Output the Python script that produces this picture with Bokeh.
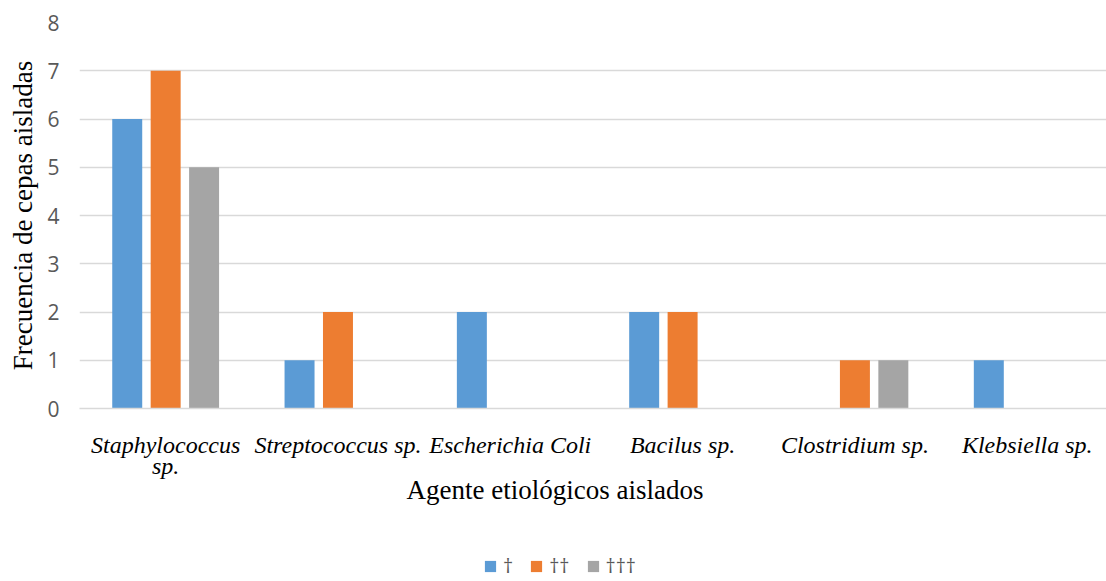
from bokeh.plotting import figure
from bokeh.layouts import column
from bokeh.models import (ColumnDataSource, Legend, LegendItem, Range1d,
                          LinearAxis, FixedTicker, Title)
from bokeh.embed import file_html
from bokeh.resources import INLINE

# Isolated strains per etiological agent, three series
agents = ["Staphylococcus sp.", "Streptococcus sp.", "Escherichia Coli",
          "Bacilus sp.", "Clostridium sp.", "Klebsiella sp."]
serie_1 = [6, 1, 2, 2, 0, 1]
serie_2 = [7, 2, 0, 2, 1, 0]
serie_3 = [5, 0, 0, 0, 1, 0]
series_names = ["\u2020", "\u2020\u2020", "\u2020\u2020\u2020"]
colors = ["#5B9BD5", "#ED7D31", "#A5A5A5"]
y_ticks = [0, 1, 2, 3, 4, 5, 6, 7, 8]

idx = list(range(len(agents)))
bw = 0.174
off = 0.223

p = figure(x_range=Range1d(-0.5, 5.46), y_range=Range1d(0, 8),
           width=1106, height=540, output_backend="svg", toolbar_location=None,
           min_border_left=79, min_border_right=0, min_border_top=22,
           min_border_bottom=132)
p.outline_line_color = None
p.background_fill_color = "white"
p.border_fill_color = "white"

sources = []
for vals, dx in zip([serie_1, serie_2, serie_3], [-off, 0, off]):
    sources.append(ColumnDataSource(dict(x=[i + dx for i in idx], top=vals)))

for src, c in zip(sources, colors):
    p.vbar(x="x", top="top", width=bw, source=src,
           fill_color=c, line_color=None)

# grid
p.xgrid.grid_line_color = None
p.ygrid.grid_line_color = "#D9D9D9"
p.ygrid.grid_line_width = 1.3
p.yaxis.ticker = y_ticks

# y axis
p.yaxis.axis_line_color = None
p.yaxis.major_tick_line_color = None
p.yaxis.minor_tick_line_color = None
p.yaxis.major_label_text_font = "Open Sans"
p.yaxis.major_label_text_font_size = "21px"
p.yaxis.major_label_text_color = "#595959"
p.yaxis.major_label_standoff = 14
p.yaxis.axis_label = "Frecuencia de cepas aisladas"
p.yaxis.axis_label_text_font = "Liberation Serif"
p.yaxis.axis_label_text_font_style = "normal"
p.yaxis.axis_label_text_font_size = "27px"
p.yaxis.axis_label_text_color = "black"
p.yaxis.axis_label_standoff = 6

label_style = dict(major_label_text_font="Liberation Serif",
                   major_label_text_font_style="italic",
                   major_label_text_font_size="24px",
                   major_label_text_color="black",
                   major_tick_line_color=None, minor_tick_line_color=None)

# x axis: one tick per agent (first label wraps onto a second line)
p.xaxis.ticker = idx
p.xaxis.major_label_overrides = {i: a for i, a in zip(idx, agents)}
p.xaxis.major_label_overrides[0] = "Staphylococcus"
p.xaxis.axis_line_color = "#D9D9D9"
p.xaxis.axis_line_width = 1.3
p.xaxis.major_label_standoff = 17
for k, v in label_style.items():
    setattr(p.xaxis[0], k, v)

wrap_axis = LinearAxis(ticker=FixedTicker(ticks=[0]),
                       major_label_overrides={0: "sp."},
                       axis_line_color=None, major_label_standoff=-14,
                       **label_style)
p.add_layout(wrap_axis, "below")

p.add_layout(Title(text="Agente etiológicos aislados", align="left",
                   offset=327, text_font="Liberation Serif",
                   text_font_style="normal", text_font_size="27px",
                   text_color="black", standoff=-18), "below")

# legend strip underneath the chart; its key renderers are hidden
lg = figure(x_range=Range1d(-0.5, 5.46), y_range=Range1d(0, 1), width=1106,
            height=41, output_backend="svg", toolbar_location=None,
            min_border=0, outline_line_color=None)
lg.axis.visible = False
lg.grid.visible = False
key_renderers = [lg.vbar(x="x", top="top", width=bw, source=src,
                         fill_color=c, line_color=None, visible=False)
                 for src, c in zip(sources, colors)]
legend = Legend(items=[LegendItem(label=n, renderers=[r], index=0)
                       for n, r in zip(series_names, key_renderers)],
                orientation="horizontal", location=(404, 2),
                label_text_font="Open Sans", label_text_font_size="20px",
                label_text_color="#595959", glyph_width=14, glyph_height=14,
                label_height=14, label_width=10, spacing=16, label_standoff=6,
                border_line_color=None, background_fill_alpha=0,
                margin=0, padding=0)
lg.add_layout(legend, "center")

open("out.html", "w").write(file_html(column(p, lg, spacing=0), INLINE))
